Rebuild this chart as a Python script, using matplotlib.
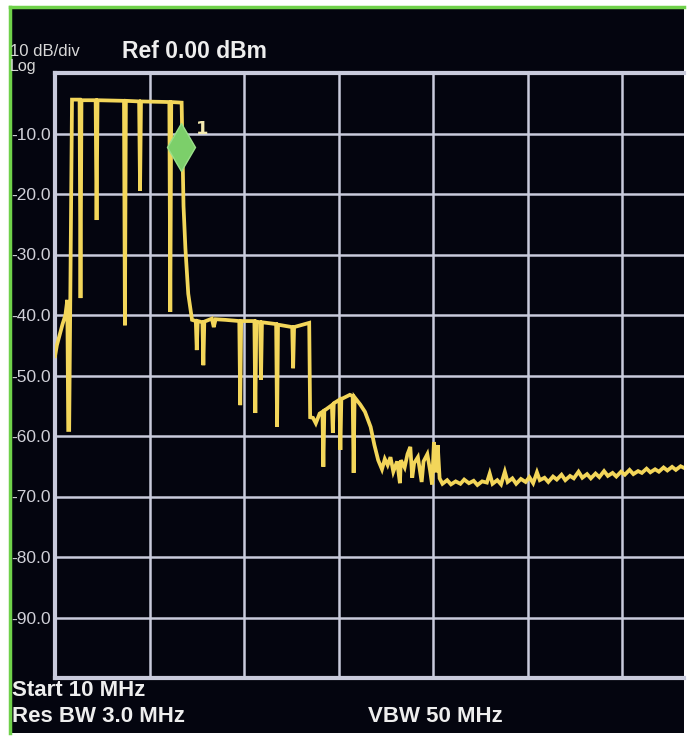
import matplotlib.pyplot as plt
from matplotlib.patches import Rectangle
from matplotlib.lines import Line2D

# trace: x in divisions from start, y in dBm
trace_div = [0.00, 0.02, 0.08, 0.11, 0.13, 0.14, 0.15, 0.18,
             0.26, 0.27, 0.28, 0.43, 0.44, 0.45, 0.73, 0.74, 0.75, 0.89, 0.90, 0.91,
             1.21, 1.22, 1.23, 1.34, 1.36, 1.38, 1.41, 1.45,
             1.49, 1.50, 1.51, 1.56, 1.57, 1.58, 1.66, 1.68, 1.70, 1.80, 1.95, 1.96, 1.97,
             2.11, 2.12, 2.13, 2.17, 2.18, 2.19, 2.34, 2.35, 2.36, 2.51, 2.52, 2.53,
             2.69, 2.70,
             2.73, 2.76, 2.80, 2.83, 2.84, 2.85, 2.93, 2.94, 2.95, 3.01, 3.02, 3.03,
             3.12, 3.15, 3.16, 3.17, 3.23, 3.28, 3.34, 3.38, 3.42,
             3.46, 3.49, 3.52, 3.55, 3.58, 3.62, 3.65, 3.66, 3.70, 3.73, 3.76, 3.78,
             3.80, 3.84, 3.88, 3.90, 3.94, 3.97, 3.99, 4.01, 4.03, 4.05, 4.07,
             4.10, 4.15, 4.19, 4.24, 4.29, 4.33, 4.38, 4.43, 4.47, 4.52, 4.57, 4.60,
             4.63, 4.68, 4.72, 4.76, 4.79, 4.84, 4.88, 4.93, 4.98, 5.02, 5.06, 5.10,
             5.13, 5.18, 5.22, 5.27, 5.31, 5.36, 5.40, 5.45, 5.49, 5.54, 5.58, 5.63,
             5.67, 5.72, 5.76, 5.81, 5.85, 5.90, 5.94, 5.99, 6.03, 6.08, 6.12, 6.17,
             6.21, 6.26, 6.30, 6.35, 6.39, 6.44, 6.48, 6.53, 6.57, 6.62, 6.66]
trace_db = [-46.8, -45.0, -41.5, -40.0, -37.5, -59.0, -59.0, -4.4,
            -4.4, -37.2, -4.5, -4.5, -24.3, -4.5, -4.6, -41.7, -4.6, -4.7, -19.5, -4.7,
            -4.8, -39.5, -4.8, -4.9, -22.0, -29.0, -36.5, -40.8,
            -41.0, -45.8, -41.0, -41.2, -48.3, -41.1, -40.6, -42.0, -40.7, -40.8, -41.0, -54.9, -41.0,
            -41.0, -56.2, -41.1, -41.2, -50.7, -41.2, -41.5, -58.5, -41.6, -42.0, -48.8, -42.0,
            -41.3, -56.9,
            -57.0, -57.9, -56.3, -56.0, -65.1, -55.8, -54.9, -59.5, -54.6, -54.0, -62.3, -53.9,
            -53.2, -53.4, -66.1, -53.6, -54.8, -56.0, -58.5, -61.5, -64.0,
            -65.5, -63.8, -64.8, -63.5, -65.9, -64.2, -67.8, -64.0, -65.2, -63.0, -61.8, -66.9,
            -64.5, -63.5, -67.6, -64.2, -63.0, -65.8, -68.0, -61.0, -66.0, -61.5, -67.0,
            -67.9, -67.3, -68.0, -67.5, -67.9, -67.2, -67.8, -67.4, -68.1, -67.5, -67.7, -66.2,
            -67.9, -67.3, -68.0, -65.9, -67.6, -67.0, -67.9, -67.1, -67.6, -66.8, -67.8, -66.0,
            -67.3, -66.9, -67.6, -66.7, -67.2, -66.4, -67.3, -66.6, -67.0, -65.9, -66.9, -66.3,
            -67.0, -66.2, -66.8, -65.8, -66.6, -66.1, -66.7, -65.9, -66.4, -65.6, -66.3, -65.8,
            -66.1, -65.4, -66.0, -65.5, -65.9, -65.2, -65.7, -65.1, -65.6, -65.0, -65.3]

marker_div, marker_db = 1.33, -12.2
ytick_vals = [-10, -20, -30, -40, -50, -60, -70, -80, -90]
ytick_labels = ["-10.0", "-20.0", "-30.0", "-40.0", "-50.0", "-60.0", "-70.0", "-80.0", "-90.0"]

BG = "#04050f"
GRID = "#c9cbdc"
TRACE = "#f3d65a"
TXT = "#eeeeee"
FONT = ["Liberation Sans", "DejaVu Sans"]

fig = plt.figure(figsize=(6.9, 7.41), dpi=100)
fig.patch.set_facecolor("white")

# screen area with green bezel edge on left and top
W, H = 690.0, 741.0
fig.patches.append(Rectangle((10 / W, 1 - 733 / H), 674 / W, 726 / H, zorder=-10,
                             transform=fig.transFigure, facecolor=BG, edgecolor="none"))
fig.lines.append(Line2D([10 / W, 10 / W], [1 - 733 / H, 1 - 7 / H], transform=fig.transFigure,
                        color="#6fd14a", lw=2.5, zorder=-5))
fig.lines.append(Line2D([10 / W, 684 / W], [1 - 7 / H, 1 - 7 / H], transform=fig.transFigure,
                        color="#6fd14a", lw=2.5, zorder=-5))

ax = fig.add_axes([55 / W, 1 - 678 / H, 629 / W, 605 / H])
ax.set_facecolor(BG)
ax.set_xlim(0, 629 / 94.5)
ax.set_ylim(-100, 0)

for v in ytick_vals:
    ax.axhline(v, color=GRID, lw=1.8, zorder=1)
for d in range(1, 7):
    ax.axvline(d, color=GRID, lw=1.8, zorder=1)

for s in ["left", "top", "bottom"]:
    ax.spines[s].set_color(GRID)
    ax.spines[s].set_linewidth(3)
ax.spines["right"].set_visible(False)

ax.set_xticks([])
ax.set_yticks(ytick_vals)
ax.set_yticklabels(ytick_labels, color="#d0d0d8", fontsize=12.5, family=FONT)
ax.tick_params(axis="y", length=0, pad=3)

ax.plot(trace_div, trace_db, color=TRACE, lw=2.7, zorder=3, solid_joinstyle="miter")
ax.plot([marker_div], [marker_db], marker="d", markersize=24, color="#7ccf6a",
        markeredgecolor="#9be08a", zorder=4)
ax.text(marker_div + 0.16, marker_db + 3.0, "1", color="#f4eab0", fontsize=13,
        fontweight="bold", ha="left", va="center", zorder=4)

fig.text(10 / W, 1 - 51 / H, "10 dB/div", color="#d8d8d8", fontsize=12, family=FONT,
         va="center", ha="left")
fig.text(10 / W, 1 - 67 / H, "Log", color="#d8d8d8", fontsize=11.5, family=FONT,
         va="center", ha="left")
fig.text(122 / W, 1 - 52 / H, "Ref 0.00 dBm", color=TXT, fontsize=16.5, fontweight="bold",
         family=FONT, va="center", ha="left")
fig.text(12 / W, 1 - 691 / H, "Start 10 MHz", color=TXT, fontsize=16, fontweight="bold",
         family=FONT, va="center", ha="left")
fig.text(12 / W, 1 - 717 / H, "Res BW 3.0 MHz", color=TXT, fontsize=16, fontweight="bold",
         family=FONT, va="center", ha="left")
fig.text(368 / W, 1 - 717 / H, "VBW 50 MHz", color=TXT, fontsize=16, fontweight="bold",
         family=FONT, va="center", ha="left")

fig.savefig("out.png", dpi=100, facecolor=fig.get_facecolor())
